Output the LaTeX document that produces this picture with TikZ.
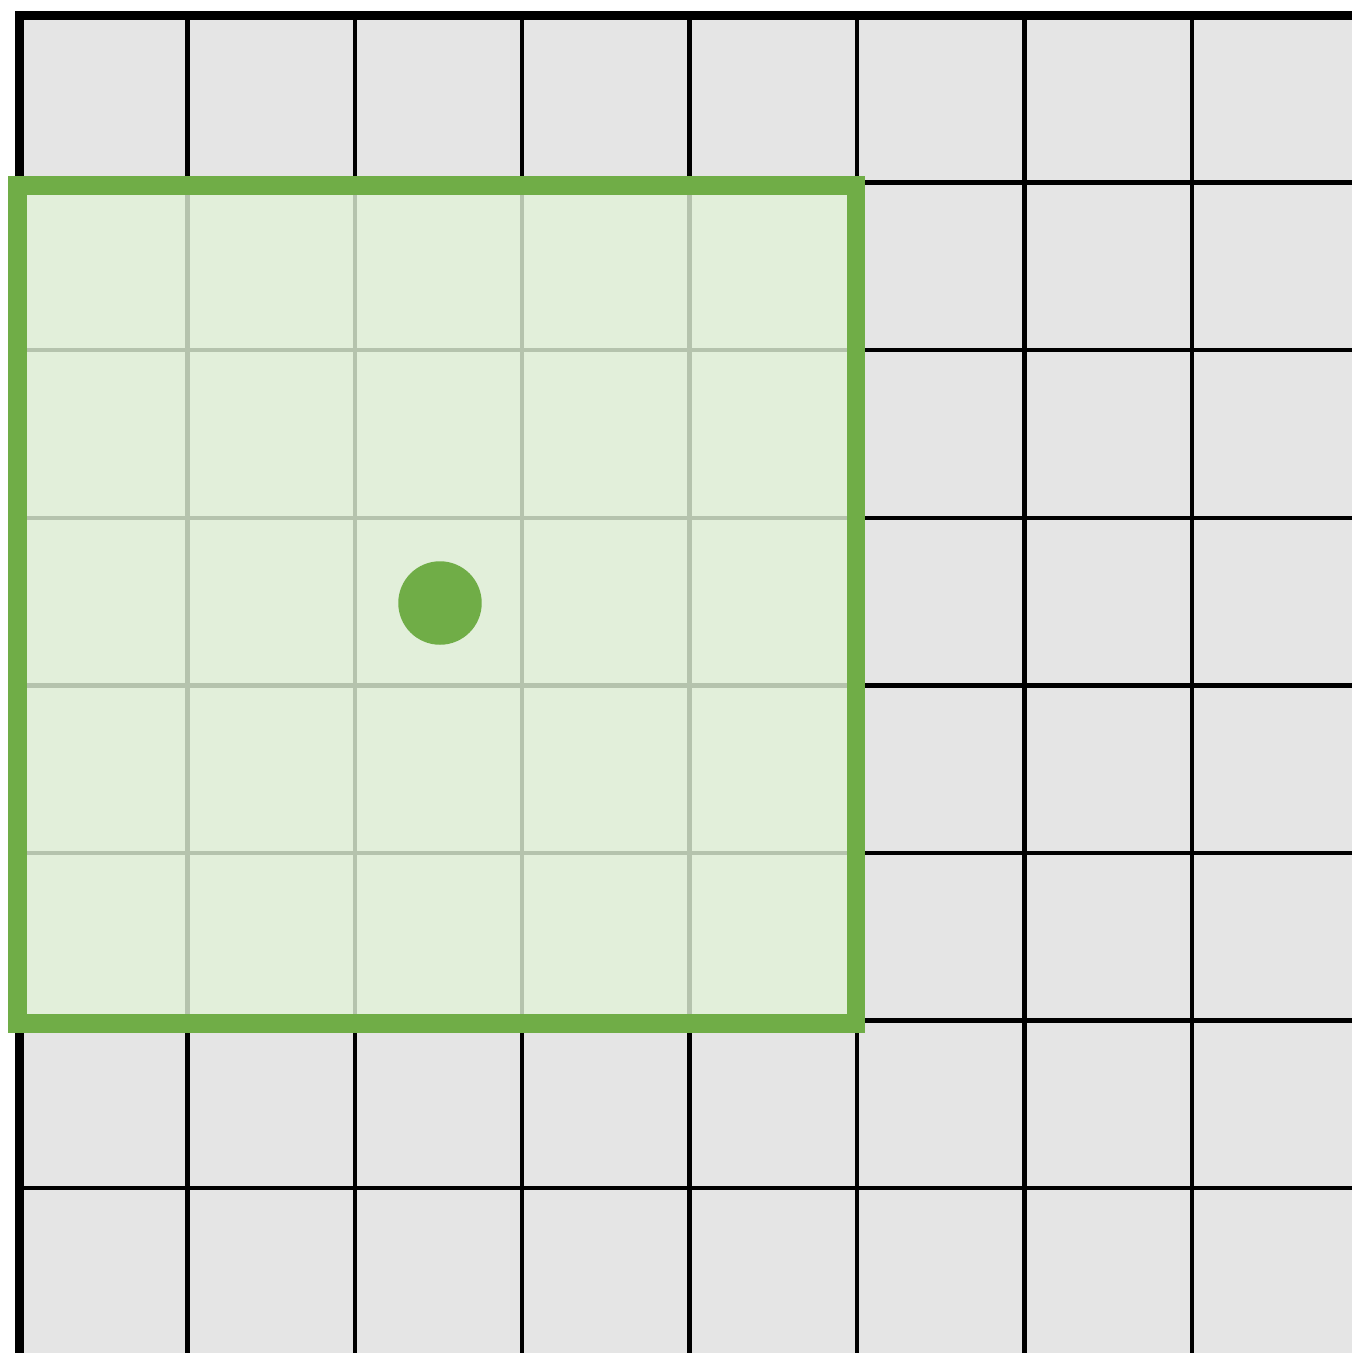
\documentclass[tikz,border=0pt]{standalone}
\usepackage{tikz}

\definecolor{cellgray}{HTML}{E5E5E5}
\definecolor{boxgreen}{HTML}{70AD47}
\definecolor{boxfill}{HTML}{E2EFDA}
\definecolor{boxline}{HTML}{B5C3AD}

\begin{document}
\begin{tikzpicture}[
x=0.02cm, y=-0.02cm, % one unit = one pixel of the reference
gridline/.style={draw=black, line width=2.55pt},
borderline/.style={draw=black, line width=5.1pt, line join=miter},
innerline/.style={draw=boxline, line width=2.55pt},
windowbox/.style={draw=boxgreen, line width=10.8pt, line join=miter}
]
\useasboundingbox (0,0) rectangle (1352,1353);

% ================= Background grid =================

\fill[cellgray] (19.5,15.5) rectangle (1352,1353);

% Cell lines
\foreach \i in {1,...,7} {
  \draw[gridline] ({20+167.4*\i},15) -- ({20+167.4*\i},1353);
  \draw[gridline] (20,{15+167.6*\i}) -- (1352,{15+167.6*\i});
}

% Outer border (top and left)
\draw[borderline] (19.5,1353) -- (19.5,15.5) -- (1352,15.5);

% ================= Green window =================

\fill[boxfill] (17.5,185.5) rectangle (856,1023);

% Faded cell lines inside the window
\foreach \i in {1,...,4} {
  \draw[innerline] ({20+167.4*\i},185.5) -- ({20+167.4*\i},1023);
  \draw[innerline] (17.5,{15+167.6*(\i+1)}) -- (856,{15+167.6*(\i+1)});
}

\draw[windowbox] (17.5,185.5) rectangle (856,1023);

% Centre marker
\node[circle, fill=boxgreen, inner sep=0pt, minimum size=1.67cm] (centre) at (440,603) {};

\end{tikzpicture}
\end{document}
